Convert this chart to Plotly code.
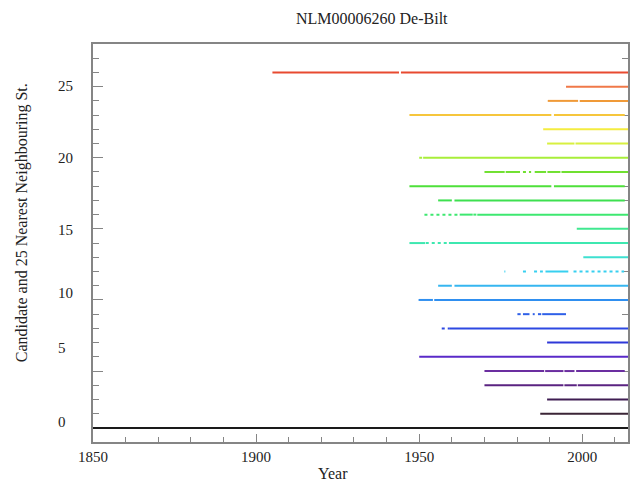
import plotly.graph_objects as go

# ---------------- data ----------------
title_text = "NLM00006260 De-Bilt"
x_title = "Year"
y_title = "Candidate and 25 Nearest Neighbouring St."

x_tick_vals = [1850, 1900, 1950, 2000]
x_tick_text = ["1850", "1900", "1950", "2000"]

y_label_text = ["0", "5", "10", "15", "20", "25"]
y_label_pos = [0.4, 5.6, 9.5, 13.95, 19.0, 24.05]
y_major_ticks = [4, 9, 14, 19, 24]
y_minor_ticks = list(range(0, 28))

station_colors = [
    "#1a1a1a", "#3b2536", "#3f1d52", "#5a2381", "#6b2ea0", "#5a2ac8",
    "#2f38d8", "#2d48e2", "#2f60e8", "#2f8ff0", "#36b6f0", "#38d0f0",
    "#3ee0d0", "#3ee8b0", "#40e890", "#3ee870", "#3ee050", "#4ee03a",
    "#70e030", "#a8ee3a", "#d8f040", "#f4ec40", "#f6c63c", "#f09a38",
    "#f07848", "#e84a30",
]

# segments: station index, start year, end year, dotted flag
seg_station = [0,
               1, 2,
               3, 3, 3,
               4, 4, 4, 4,
               5, 6,
               7, 7,
               8, 8, 8, 8, 8,
               9, 9,
               10, 10,
               11, 11, 11, 11, 11,
               12,
               13, 13, 13,
               14,
               15, 15, 15, 15,
               16, 16,
               17, 17,
               18, 18, 18, 18, 18, 18,
               19, 19,
               20, 20,
               21,
               22, 22,
               23, 23,
               24,
               25, 25]
seg_start = [1850,
             1987.1, 1989.2,
             1970.0, 1994.5, 1998.6,
             1970.0, 1988.6, 1994.5, 1998.1,
             1950.0, 1989.2,
             1956.9, 1959.4,
             1980.1, 1981.8, 1984.8, 1986.4, 1987.7,
             1949.8, 1954.6,
             1955.8, 1960.8,
             1976.1, 1981.8, 1985.2, 1988.7, 1997.3,
             2000.3,
             1947.0, 1952.0, 1959.1,
             1998.3,
             1951.6, 1962.4, 1966.6, 1967.8,
             1955.8, 1960.8,
             1947.0, 1991.3,
             1970.0, 1976.5, 1981.8, 1985.4, 1989.3, 1993.6,
             1950.0, 1951.2,
             1989.2, 1997.9,
             1988.0,
             1947.0, 1991.3,
             1989.4, 1999.2,
             1995.0,
             1905.0, 1944.4]
seg_end = [2015,
           2015, 2015,
           1994.2, 1998.3, 2015,
           1988.3, 1994.2, 1997.6, 2013.0,
           2015, 2015,
           1959.4, 2015,
           1981.1, 1983.8, 1985.4, 1987.4, 1995.0,
           1954.2, 2015,
           1960.0, 2015,
           1976.4, 1983.6, 1987.9, 1995.7, 2012.8,
           2015,
           1951.8, 1959.1, 2015,
           2015,
           1962.2, 1966.4, 1967.6, 2015,
           1960.0, 2013.0,
           1990.5, 2013.0,
           1976.2, 1980.9, 1984.3, 1988.9, 1993.3, 2015,
           1950.9, 2015,
           1997.6, 2015,
           2015,
           1990.5, 2013.0,
           1998.7, 2015,
           2015,
           1943.8, 2015]
seg_dotted = [0,
              0, 0,
              0, 0, 0,
              0, 0, 0, 0,
              0, 0,
              1, 0,
              0, 0, 0, 0, 0,
              0, 0,
              0, 0,
              1, 1, 1, 0, 1,
              0,
              0, 1, 0,
              0,
              1, 0, 1, 0,
              0, 0,
              0, 0,
              0, 0, 1, 0, 0, 0,
              0, 0,
              0, 0,
              0,
              0, 0,
              0, 0,
              0,
              0, 0]

FONT = "Liberation Serif, Times New Roman, serif"
AXC = "#858585"

fig = go.Figure()
n_st = len(station_colors)
for s in range(n_st):
    for dotted in (0, 1):
        xs, ys = [], []
        for st, a, b, d in zip(seg_station, seg_start, seg_end, seg_dotted):
            if st == s and d == dotted:
                xs += [a, b, None]
                ys += [s, s, None]
        if xs:
            fig.add_trace(go.Scatter(
                x=xs, y=ys, mode="lines", showlegend=False, hoverinfo="skip",
                line=dict(color=station_colors[s], width=2,
                          dash="dot" if dotted else "solid")))

fig.update_xaxes(
    range=[1850, 2014], showgrid=False, zeroline=False, layer="below traces",
    showline=True, linecolor=AXC, linewidth=1.5, mirror=True,
    tickmode="array", tickvals=x_tick_vals, ticktext=x_tick_text,
    ticks="inside", ticklen=8, tickcolor=AXC, tickwidth=1,
    tickfont=dict(family=FONT, size=15, color="#222222"),
    minor=dict(tickmode="linear", tick0=1850, dtick=10, ticks="inside",
               ticklen=5, tickcolor=AXC, tickwidth=1),
)
fig.update_yaxes(
    range=[-0.99, 27.0], showgrid=False, zeroline=False, layer="below traces",
    showline=True, linecolor=AXC, linewidth=1.5, mirror="ticks",
    tickmode="array", tickvals=y_major_ticks, showticklabels=False,
    ticks="inside", ticklen=10, tickcolor=AXC, tickwidth=1,
    minor=dict(tickmode="array", tickvals=y_minor_ticks, ticks="inside",
               ticklen=6, tickcolor=AXC, tickwidth=1),
)

annotations = []
for txt, pos in zip(y_label_text, y_label_pos):
    annotations.append(dict(
        text=txt, xref="paper", yref="y", x=(55.5 - 93) / 537, y=pos,
        xanchor="left", yanchor="middle", showarrow=False,
        font=dict(family=FONT, size=15, color="#222222")))
annotations.append(dict(
    text=title_text, xref="paper", yref="paper", x=(373 - 93) / 537,
    y=1 + (44 - 18) / 398, xanchor="center", yanchor="middle", showarrow=False,
    font=dict(family=FONT, size=16, color="#222222")))
annotations.append(dict(
    text=x_title, xref="paper", yref="paper", x=(334 - 93) / 537,
    y=-(474 - 442) / 398, xanchor="center", yanchor="middle", showarrow=False,
    font=dict(family=FONT, size=16, color="#222222")))
annotations.append(dict(
    text=y_title, xref="paper", yref="paper", x=(22 - 93) / 537,
    y=1 - (223 - 44) / 398, xanchor="center", yanchor="middle", showarrow=False,
    textangle=-90, font=dict(family=FONT, size=16, color="#222222")))

fig.update_layout(
    width=632, height=483,
    margin=dict(l=93, r=2, t=44, b=41, pad=0),
    paper_bgcolor="white", plot_bgcolor="white",
    annotations=annotations,
)

fig.write_html("out.html")
